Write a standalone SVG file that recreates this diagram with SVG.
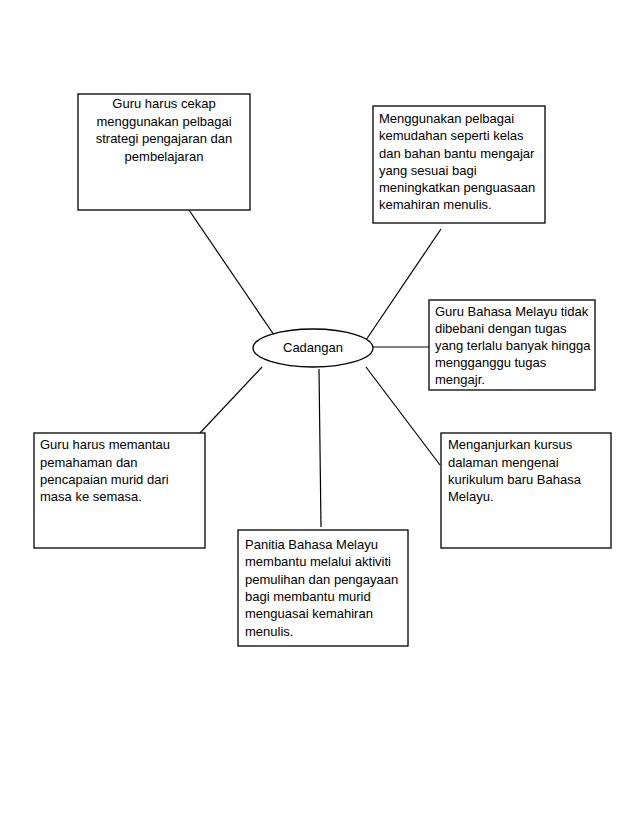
<svg xmlns="http://www.w3.org/2000/svg" width="638" height="826" viewBox="0 0 638 826">
<style>
.box{fill:#fff;stroke:#000;stroke-width:1.3}
.ln{stroke:#000;stroke-width:1.2;fill:none}
text{font-family:"Liberation Sans",Arial,sans-serif;font-size:13px;fill:#000}
.c{text-anchor:middle}
</style>
<rect width="638" height="826" fill="#fff"/>
<g id="connectors">
<line class="ln" x1="189" y1="210" x2="274" y2="335"/>
<line class="ln" x1="441" y1="229" x2="366" y2="340"/>
<line class="ln" x1="373" y1="347" x2="429" y2="347"/>
<line class="ln" x1="262" y1="367" x2="200" y2="433"/>
<line class="ln" x1="319" y1="369" x2="321" y2="527"/>
<line class="ln" x1="366" y1="367" x2="440" y2="465"/>
</g>
<g id="center">
<ellipse class="box" cx="313" cy="348" rx="60" ry="19"/>
<text class="c" x="313" y="352">Cadangan</text>
</g>
<g id="n1">
<rect class="box" x="78" y="94" width="172" height="116"/>
<text class="c" x="164" y="108">Guru harus cekap</text>
<text class="c" x="164" y="126">menggunakan pelbagai</text>
<text class="c" x="164" y="143">strategi pengajaran dan</text>
<text class="c" x="164" y="161">pembelajaran</text>
</g>
<g id="n2">
<rect class="box" x="373" y="106" width="172" height="117"/>
<text x="379" y="123">Menggunakan pelbagai</text>
<text x="379" y="140">kemudahan seperti kelas</text>
<text x="379" y="158">dan bahan bantu mengajar</text>
<text x="379" y="175">yang sesuai bagi</text>
<text x="379" y="192">meningkatkan penguasaan</text>
<text x="379" y="209">kemahiran menulis.</text>
</g>
<g id="n3">
<rect class="box" x="429" y="300" width="166" height="90"/>
<text x="435" y="316">Guru Bahasa Melayu tidak</text>
<text x="435" y="333">dibebani dengan tugas</text>
<text x="435" y="350">yang terlalu banyak hingga</text>
<text x="435" y="367">mengganggu tugas</text>
<text x="435" y="384">mengajr.</text>
</g>
<g id="n4">
<rect class="box" x="34" y="433" width="171" height="115"/>
<text x="40" y="449">Guru harus memantau</text>
<text x="40" y="467">pemahaman dan</text>
<text x="40" y="484">pencapaian murid dari</text>
<text x="40" y="501">masa ke semasa.</text>
</g>
<g id="n5">
<rect class="box" x="441" y="433" width="170" height="115"/>
<text x="448" y="449">Menganjurkan kursus</text>
<text x="448" y="467">dalaman mengenai</text>
<text x="448" y="484">kurikulum baru Bahasa</text>
<text x="448" y="501">Melayu.</text>
</g>
<g id="n6">
<rect class="box" x="238" y="530" width="170" height="116"/>
<text x="245" y="549">Panitia Bahasa Melayu</text>
<text x="245" y="566">membantu melalui aktiviti</text>
<text x="245" y="584">pemulihan dan pengayaan</text>
<text x="245" y="601">bagi membantu murid</text>
<text x="245" y="618">menguasai kemahiran</text>
<text x="245" y="636">menulis.</text>
</g>
</svg>
